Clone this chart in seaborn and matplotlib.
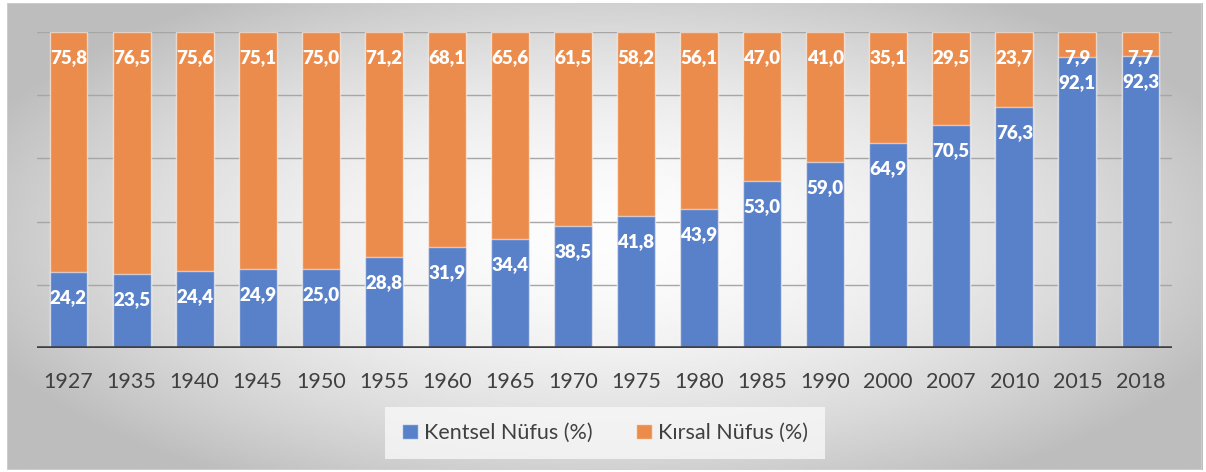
# Kentsel ve kırsal nüfus oranları (yığılmış sütun grafik)
import numpy as np
import pandas as pd
import matplotlib.pyplot as plt
import seaborn as sns
from matplotlib.patches import Rectangle, Patch

# veriler
yillar = ['1927', '1935', '1940', '1945', '1950', '1955', '1960', '1965', '1970',
          '1975', '1980', '1985', '1990', '2000', '2007', '2010', '2015', '2018']
kentsel = [24.2, 23.5, 24.4, 24.9, 25.0, 28.8, 31.9, 34.4, 38.5,
           41.8, 43.9, 53.0, 59.0, 64.9, 70.5, 76.3, 92.1, 92.3]
kirsal = [75.8, 76.5, 75.6, 75.1, 75.0, 71.2, 68.1, 65.6, 61.5,
          58.2, 56.1, 47.0, 41.0, 35.1, 29.5, 23.7, 7.9, 7.7]

df = pd.DataFrame({'Yil': yillar, 'Kentsel': kentsel, 'Kirsal': kirsal})
df['Toplam'] = df['Kentsel'] + df['Kirsal']

mavi = '#5981c9'
turuncu = '#ec8c4c'
yazi_renk = '#404040'

sns.set_style('white')
plt.rcParams['font.family'] = ['Lato', 'DejaVu Sans']

fig = plt.figure(figsize=(12.06, 4.72), dpi=100)

# arka plan: açık gri radyal geçiş
bg = fig.add_axes([0.0058, 0.0042, 0.9909, 0.9894], zorder=-5)
gx, gy = np.meshgrid(np.linspace(0, 1, 400), np.linspace(0, 1, 200))
r = np.sqrt(((gx - 0.5) / 0.5) ** 2 + ((gy - 0.5) / 0.55) ** 2)
deger = np.clip(0.99 - 0.2 * r ** 1.8, 0.74, 1)
bg.imshow(deger, cmap='gray', vmin=0, vmax=1, aspect='auto', extent=[0, 1, 0, 1])
bg.add_patch(Rectangle((0, 0), 1, 1, transform=bg.transAxes, fill=False,
                       edgecolor='#d0d0d0', linewidth=1.2))
bg.set_axis_off()

ax = fig.add_axes([37 / 1206, 1 - 348 / 472, (1172 - 37) / 1206, (348 - 32) / 472])
ax.patch.set_alpha(0)

# önce toplam (turuncu), sonra kentsel (mavi) üstüne
sns.barplot(data=df, x='Yil', y='Toplam', color=turuncu, saturation=1, width=0.6,
            edgecolor=(1, 1, 1, 0.55), linewidth=1, ax=ax, zorder=2)
sns.barplot(data=df, x='Yil', y='Kentsel', color=mavi, saturation=1, width=0.6,
            edgecolor=(1, 1, 1, 0.55), linewidth=1, ax=ax, zorder=3)

# değer etiketleri (her parçanın üst kısmında)
for i in range(len(yillar)):
    ax.annotate(f"{kirsal[i]:.1f}".replace('.', ','), xy=(i, df['Toplam'][i]),
                xytext=(0, -18.5), textcoords='offset points', ha='center', va='center',
                color='white', fontsize=13.5, fontweight='heavy', zorder=5)
    ax.annotate(f"{kentsel[i]:.1f}".replace('.', ','), xy=(i, kentsel[i]),
                xytext=(0, -18.5), textcoords='offset points', ha='center', va='center',
                color='white', fontsize=13.5, fontweight='heavy', zorder=5)

# yatay kılavuz çizgileri
for yv in [20, 40, 60, 80, 100]:
    ax.axhline(yv, color='#a6a6a6', linewidth=1, zorder=1)
ax.axhline(0, color='#404040', linewidth=3.3, zorder=4)

ax.set_xlim(-0.5, len(yillar) - 0.5)
ax.set_ylim(0, 100)
ax.set_yticks([])
ax.set_xlabel('')
ax.set_ylabel('')
ax.tick_params(axis='x', length=0, pad=17, labelsize=15.5, labelcolor=yazi_renk)
sns.despine(ax=ax, left=True, bottom=True)

# lejant
tutamak = [Patch(facecolor=mavi, edgecolor=(1, 1, 1, 0.6), label='Kentsel Nüfus (%)'),
           Patch(facecolor=turuncu, edgecolor=(1, 1, 1, 0.6), label='Kırsal Nüfus (%)')]
leg = fig.legend(handles=tutamak, loc='center', bbox_to_anchor=(605 / 1206, 1 - 433 / 472),
                 ncol=2, frameon=True, fontsize=15.5, handlelength=0.75, handleheight=0.75,
                 handletextpad=0.3, columnspacing=2.0, borderpad=0.75, borderaxespad=0,
                 fancybox=False)
leg.get_frame().set_facecolor('#f8f8f8')
leg.get_frame().set_edgecolor('none')
for t in leg.get_texts():
    t.set_color(yazi_renk)

fig.savefig('out.png', dpi=100)
